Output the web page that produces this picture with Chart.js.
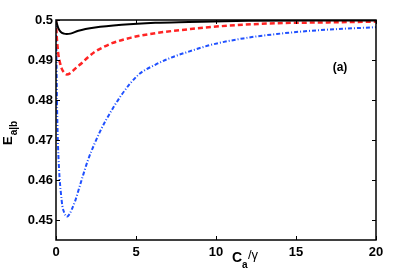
<!DOCTYPE html>
<html>
<head>
<meta charset="utf-8">
<script src="https://cdn.jsdelivr.net/npm/chart.js@4"></script>
<style>
  html, body { margin: 0; padding: 0; background: #fff; }
  canvas { display: block; }
</style>
</head>
<body>
<canvas id="chart" width="415" height="271"></canvas>
<script>
// values
const xTicks = [0, 5, 10, 15, 20];
const yTicks = [0.45, 0.46, 0.47, 0.48, 0.49, 0.5];

const xBlack = [0, 0.05, 0.15, 0.3, 0.5, 0.67, 0.9, 1.4, 2.44, 4.1, 6.2, 8.3, 12, 16, 20];
const yBlack = [0.5, 0.4992, 0.4979, 0.497, 0.4966, 0.4965, 0.4966, 0.4973, 0.4981, 0.4988, 0.4993, 0.4995, 0.4998, 0.4999, 0.4999];

const xRed = [0, 0.04, 0.1, 0.15, 0.25, 0.35, 0.5, 0.67, 0.85, 1.0, 1.3, 1.6, 2.0, 2.44, 3.0, 3.5, 4.7, 6.2, 8.3, 9.8, 13.8, 17, 20];
const yRed = [0.5, 0.4963, 0.4932, 0.4913, 0.4893, 0.4879, 0.4869, 0.4864, 0.4866, 0.4871, 0.4882, 0.4892, 0.4907, 0.4921, 0.4933, 0.4942, 0.4956, 0.4967, 0.4977, 0.4983, 0.4992, 0.4994, 0.4996];

const xBlue = [0, 0.03, 0.06, 0.1, 0.2, 0.3, 0.4, 0.5, 0.67, 0.85, 1.0, 1.2, 1.6, 2.0, 2.4, 2.75, 3.1, 4.1, 5.15, 6.2, 7.2, 8.3, 9.7, 11.7, 13.8, 15.9, 17.9, 20];
const yBlue = [0.5, 0.49, 0.48, 0.472, 0.462, 0.457, 0.4535, 0.452, 0.4508, 0.4515, 0.4528, 0.4548, 0.46, 0.465, 0.469, 0.4721, 0.4748, 0.4813, 0.4863, 0.4888, 0.4906, 0.4921, 0.4938, 0.4954, 0.4965, 0.4973, 0.4978, 0.4982];

const FONT = '"Liberation Sans", Arial, Helvetica, sans-serif';

const pts = (xs, ys) => xs.map((x, i) => ({ x, y: ys[i] }));

// frame, inward ticks, axis titles and panel label
const decor = {
  id: 'decor',
  afterDraw(chart) {
    const { ctx, chartArea: a, scales } = chart;
    const tl = 4;
    ctx.save();
    ctx.strokeStyle = '#000';
    ctx.lineWidth = 1.5;
    ctx.strokeRect(a.left, a.top, a.right - a.left, a.bottom - a.top);
    ctx.lineWidth = 1;
    ctx.beginPath();
    xTicks.forEach(v => {
      const px = Math.round(scales.x.getPixelForValue(v)) + 0.5;
      ctx.moveTo(px, a.bottom); ctx.lineTo(px, a.bottom - tl);
      ctx.moveTo(px, a.top); ctx.lineTo(px, a.top + tl);
    });
    yTicks.forEach(v => {
      const py = Math.round(scales.y.getPixelForValue(v)) + 0.5;
      ctx.moveTo(a.left, py); ctx.lineTo(a.left + tl, py);
      ctx.moveTo(a.right, py); ctx.lineTo(a.right - tl, py);
    });
    ctx.stroke();

    ctx.fillStyle = '#000';
    ctx.textBaseline = 'alphabetic';
    ctx.textAlign = 'left';

    // x title: C_a/γ
    ctx.font = 'bold 14px ' + FONT;
    ctx.fillText('C', 232, 262);
    ctx.font = 'bold 10px ' + FONT;
    ctx.fillText('a', 242, 268);
    ctx.font = '13px ' + FONT;
    ctx.fillText('/γ', 248, 259);

    // y title: E_a|b
    ctx.save();
    ctx.translate(12, 145);
    ctx.rotate(-Math.PI / 2);
    ctx.font = 'bold 13px ' + FONT;
    ctx.fillText('E', 0, 0);
    const w = ctx.measureText('E').width;
    ctx.font = 'bold 10px ' + FONT;
    ctx.fillText('a|b', w + 1, 5);
    ctx.restore();

    // panel label
    ctx.font = 'bold 12px ' + FONT;
    ctx.textAlign = 'center';
    ctx.textBaseline = 'middle';
    ctx.fillText('(a)', 340, 68);
    ctx.restore();
  }
};

const tickFont = { family: FONT, size: 13, weight: 'bold' };

new Chart(document.getElementById('chart'), {
  type: 'line',
  data: {
    datasets: [
      {
        data: pts(xBlack, yBlack),
        borderColor: '#000000',
        borderWidth: 2,
        pointRadius: 0,
        cubicInterpolationMode: 'monotone',
      },
      {
        data: pts(xRed, yRed),
        borderColor: '#ff2424',
        borderWidth: 2.5,
        borderDash: [5, 3],
        pointRadius: 0,
        cubicInterpolationMode: 'monotone',
      },
      {
        data: pts(xBlue, yBlue),
        borderColor: '#1f50ff',
        borderWidth: 2,
        borderDash: [4, 2, 1, 2],
        pointRadius: 0,
        cubicInterpolationMode: 'monotone',
      },
    ]
  },
  options: {
    responsive: false,
    devicePixelRatio: 1,
    animation: false,
    layout: { padding: { top: 20, right: 39, left: 0, bottom: 0 } },
    plugins: {
      legend: { display: false },
      tooltip: { enabled: false },
    },
    scales: {
      x: {
        type: 'linear',
        min: 0,
        max: 20,
        afterBuildTicks: s => { s.ticks = xTicks.map(v => ({ value: v })); },
        afterFit: s => { s.height = 31; },
        ticks: { font: tickFont, color: '#000', padding: 5, maxRotation: 0, callback: v => String(v) },
        grid: { display: false, drawTicks: false },
        border: { display: false },
      },
      y: {
        type: 'linear',
        min: 0.445,
        max: 0.5,
        afterBuildTicks: s => { s.ticks = yTicks.map(v => ({ value: v })); },
        afterFit: s => { s.width = 56; },
        ticks: { font: tickFont, color: '#000', padding: 3, callback: v => String(+v.toFixed(2)) },
        grid: { display: false, drawTicks: false },
        border: { display: false },
      }
    }
  },
  plugins: [decor]
});
</script>
</body>
</html>
